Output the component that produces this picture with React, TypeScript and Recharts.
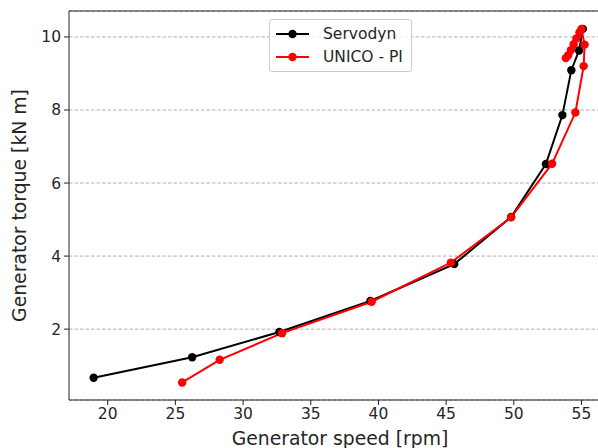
import React from 'react';
import {
  ComposedChart,
  Line,
  XAxis,
  YAxis,
  CartesianGrid,
  Legend,
  ReferenceLine,
  Label,
} from 'recharts';

const servodynSpeed = [18.96, 26.24, 32.68, 39.4, 45.6, 49.8, 52.37, 53.59, 54.25, 54.82, 55.1];
const servodynTorque = [0.67, 1.23, 1.92, 2.77, 3.78, 5.07, 6.52, 7.86, 9.09, 9.63, 10.22];

const unicoSpeed = [25.5, 28.27, 32.88, 39.5, 45.35, 49.8, 52.83, 54.55, 55.16, 55.23, 55.0, 54.85, 54.62, 54.42, 54.22, 54.02, 53.84];
const unicoTorque = [0.54, 1.16, 1.89, 2.75, 3.82, 5.06, 6.53, 7.93, 9.2, 9.79, 10.22, 10.12, 9.96, 9.8, 9.64, 9.5, 9.42];

const xTicks = [20, 25, 30, 35, 40, 45, 50, 55];
const yTicks = [2, 4, 6, 8, 10];

const X_DOMAIN: [number, number] = [17.14, 57.18];
const Y_DOMAIN: [number, number] = [0.06, 10.71];

const servodyn = servodynSpeed.map((x, i) => ({ x, y: servodynTorque[i] }));
const unico = unicoSpeed.map((x, i) => ({ x, y: unicoTorque[i] }));

const FONT = '"DejaVu Sans", sans-serif';
const TEXT = '#262626';

function LegendBox({ payload }: any) {
  return (
    <div
      style={{
        border: '1px solid #cccccc',
        borderRadius: 3,
        background: 'rgba(255,255,255,0.8)',
        padding: '2px 8px 2px 6px',
        fontFamily: FONT,
        fontSize: 15.5,
        color: TEXT,
      }}
    >
      {(payload || []).map((p: any) => (
        <div key={p.value} style={{ display: 'flex', alignItems: 'center', height: 23.4 }}>
          <svg width={33} height={10} style={{ marginRight: 14 }}>
            <line x1={0} y1={5} x2={33} y2={5} stroke={p.color} strokeWidth={2} />
            <circle cx={16.5} cy={5} r={4.2} fill={p.color} />
          </svg>
          <span>{p.value}</span>
        </div>
      ))}
    </div>
  );
}

export default function App() {
  return (
    <div
      style={{
        position: 'absolute',
        left: 0,
        top: 0,
        width: 598,
        height: 448,
        overflow: 'hidden',
        background: '#fff',
      }}
    >
      <ComposedChart
        width={614}
        height={448}
        margin={{ top: 11, right: 3, left: 0, bottom: 0 }}
      >
        <CartesianGrid
          horizontal
          vertical={false}
          stroke="#b0b0b0"
          strokeDasharray="3.5 2"
        />
        <XAxis
          type="number"
          dataKey="x"
          domain={X_DOMAIN}
          ticks={xTicks}
          allowDataOverflow
          height={48}
          stroke="#222"
          tickSize={5}
          tickMargin={3}
          tick={{ fill: TEXT, fontSize: 15.5, fontFamily: FONT }}
        >
          <Label
            value="Generator speed [rpm]"
            position="insideBottom"
            offset={3}
            style={{ fill: TEXT, fontSize: 18.8, fontFamily: FONT }}
          />
        </XAxis>
        <YAxis
          type="number"
          dataKey="y"
          domain={Y_DOMAIN}
          ticks={yTicks}
          allowDataOverflow
          width={69}
          stroke="#222"
          tickSize={5}
          tickMargin={3}
          tick={{ fill: TEXT, fontSize: 15.5, fontFamily: FONT }}
        >
          <Label
            value="Generator torque [kN m]"
            angle={-90}
            position="insideLeft"
            offset={19}
            style={{ textAnchor: 'middle', fill: TEXT, fontSize: 18.8, fontFamily: FONT }}
          />
        </YAxis>
        <ReferenceLine y={Y_DOMAIN[1]} stroke="#222" />
        <Legend
          layout="horizontal"
          verticalAlign="middle"
          align="center"
          content={<LegendBox />}
          wrapperStyle={{ position: 'absolute', top: 19, left: 269, width: 'auto' }}
        />
        <Line
          name="Servodyn"
          data={servodyn}
          dataKey="y"
          stroke="#000000"
          strokeWidth={2}
          dot={{ r: 4.2, fill: '#000000', stroke: '#000000', strokeWidth: 0 }}
          isAnimationActive={false}
        />
        <Line
          name="UNICO - PI"
          data={unico}
          dataKey="y"
          stroke="#ff0000"
          strokeWidth={2}
          dot={{ r: 4.2, fill: '#ff0000', stroke: '#ff0000', strokeWidth: 0 }}
          isAnimationActive={false}
        />
      </ComposedChart>
    </div>
  );
}
